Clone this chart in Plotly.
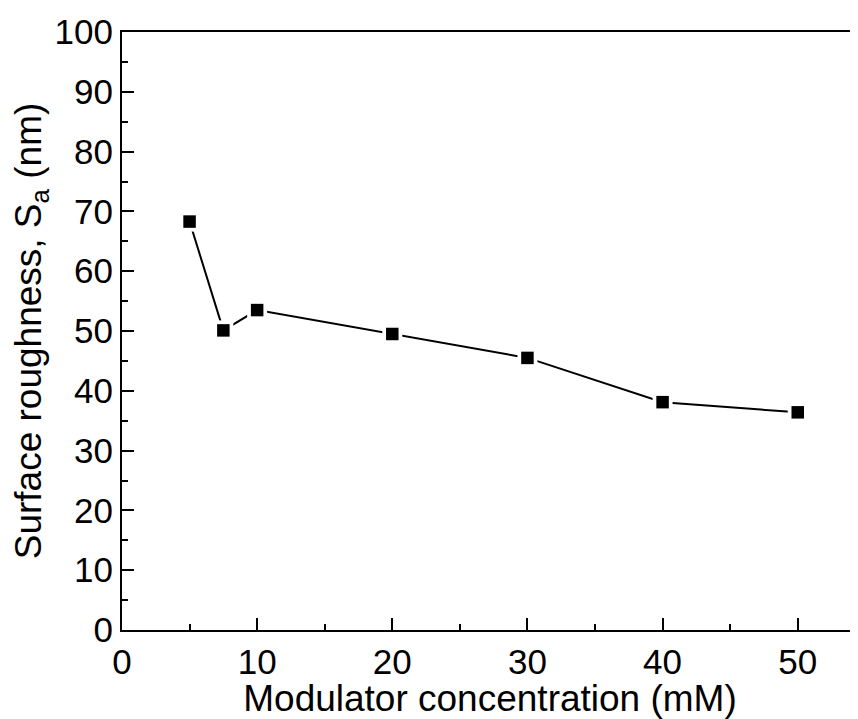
import plotly.graph_objects as go

concentration = [5, 7.5, 10, 20, 30, 40, 50]
roughness = [68.3, 50.1, 53.5, 49.5, 45.5, 38.1, 36.4]

x_ticks = [0, 10, 20, 30, 40, 50]
y_ticks = [0, 10, 20, 30, 40, 50, 60, 70, 80, 90, 100]

font_family = "Liberation Sans, Arial, sans-serif"

fig = go.Figure()
fig.add_trace(go.Scatter(x=concentration, y=roughness, mode="lines",
                         line=dict(color="black", width=2), showlegend=False, hoverinfo="skip"))
fig.add_trace(go.Scatter(x=concentration, y=roughness, mode="markers",
                         marker=dict(symbol="square", size=20, color="white"),
                         showlegend=False, hoverinfo="skip"))
fig.add_trace(go.Scatter(x=concentration, y=roughness, mode="markers",
                         marker=dict(symbol="square", size=12.5, color="black"),
                         showlegend=False))

axis_common = dict(showgrid=False, zeroline=False, showline=True, linecolor="black", linewidth=2,
                   ticks="inside", ticklen=12, tickwidth=2, tickcolor="black",
                   tickfont=dict(family=font_family, size=35, color="black"))

fig.update_xaxes(range=[0, 54.46], tickvals=x_ticks, mirror=True,
                 minor=dict(ticks="inside", ticklen=6, tickwidth=2, tickcolor="black", dtick=5, tick0=0),
                 title=dict(text="Modulator concentration (mM)", font=dict(family=font_family, size=37, color="black"), standoff=0),
                 **axis_common)
fig.update_yaxes(range=[0, 100], tickvals=y_ticks, mirror=False,
                 minor=dict(ticks="inside", ticklen=6, tickwidth=2, tickcolor="black", dtick=5, tick0=0),
                 title=dict(text="Surface roughness, S<sub>a</sub> (nm)", font=dict(family=font_family, size=37, color="black"), standoff=8),
                 **axis_common)

# the page body adds an 8px offset, so the figure is 8px smaller than the window
fig.update_layout(width=850, height=711, margin=dict(l=114, r=0, t=24, b=89),
                  plot_bgcolor="white", paper_bgcolor="white")

fig.write_html("out.html")
